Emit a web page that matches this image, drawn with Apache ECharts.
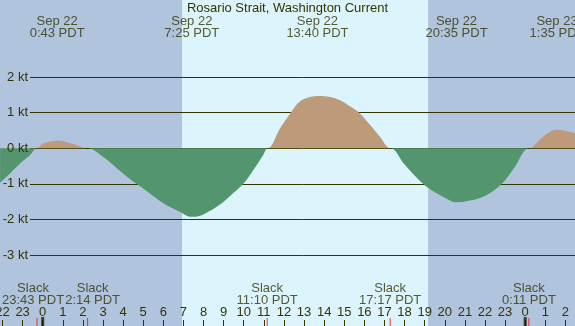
<!DOCTYPE html>
<html>
<head>
<meta charset="utf-8">
<script src="https://cdn.jsdelivr.net/npm/echarts@6/dist/echarts.min.js"></script>
<style>
  html, body { margin: 0; padding: 0; }
  #chart { width: 575px; height: 326px; }
</style>
</head>
<body>
<div id="chart"></div>
<script>
// hours from Sep 22 00:00 PDT, current in knots (flood +, ebb -)
const hours = [-2.12, -1.63, -1.13, -0.63, -0.28, 0.03, 0.75, 1.5, 2.23, 3.0, 4.0, 4.65, 5.0, 6.0, 6.83, 7.41, 7.83, 8.32, 8.82, 9.32, 9.98, 10.48, 10.97, 11.2, 11.81, 12.34, 12.8, 13.3, 13.75, 14.29, 14.79, 15.28, 15.78, 16.28, 16.77, 17.3, 18.0, 19.0, 20.0, 20.58, 21.0, 22.0, 22.84, 23.5, 24.18, 24.8, 25.2, 25.58, 26.48];
const speed = [-0.97, -0.71, -0.43, -0.19, 0, 0.13, 0.21, 0.12, 0, -0.24, -0.71, -1.0, -1.13, -1.55, -1.79, -1.93, -1.9, -1.76, -1.58, -1.34, -1.0, -0.61, -0.19, 0, 0.56, 1.0, 1.32, 1.44, 1.47, 1.44, 1.35, 1.18, 0.98, 0.66, 0.33, 0, -0.46, -1.04, -1.39, -1.52, -1.5, -1.34, -1.0, -0.51, 0, 0.28, 0.45, 0.52, 0.42];

const slackDay = [-1, 0, 0, 0, 1];
const slackTime = ['23:43', '2:14', '11:10', '17:17', '0:11'];
const maxDay = [0, 0, 0, 0, 1];
const maxTime = ['0:43', '7:25', '13:40', '20:35', '1:35'];
const maxDate = ['Sep 22', 'Sep 22', 'Sep 22', 'Sep 22', 'Sep 23'];
const midnights = [0, 24];
const daylight = [6.93, 19.17];
const ktTicks = [-3, -2, -1, 0, 1, 2];

const ink = '#333300';
const font = 'Liberation Sans';

function toHour(day, t) {
  const p = t.split(':');
  return day * 24 + Number(p[0]) + Number(p[1]) / 60;
}

const yMin = -5, yMax = 4.17;

// flood and ebb parts drawn as separate fills
const flood = hours.map((h, i) => [h, Math.max(speed[i], 0)]);
const ebb = hours.map((h, i) => [h, Math.min(speed[i], 0)]);

function fill(data, color, z) {
  return {
    type: 'line', xAxisIndex: 0, yAxisIndex: 0, z: z,
    data: data, smooth: 0.35, symbol: 'none',
    lineStyle: { width: 0, color: color },
    itemStyle: { color: color },
    areaStyle: { opacity: 1, color: color, origin: 0 }
  };
}

// the two early slack labels are nudged apart so they don't overlap
const slackNudge = [-4, 5, 0, 0, 0];

const chart = echarts.init(document.getElementById('chart'));
chart.setOption({
  backgroundColor: '#b0c4de',
  animation: false,
  title: {
    text: 'Rosario Strait, Washington Current',
    left: 'center', top: 2, padding: 0,
    textStyle: { fontFamily: font, fontSize: 13, fontWeight: 'normal', color: ink }
  },
  grid: [
    { left: -17.6, right: -10.5, top: 0, bottom: 0, containLabel: false, outerBoundsMode: 'none' },
    { left: 30, right: 0, top: 77, bottom: 71, containLabel: false, outerBoundsMode: 'none' }
  ],
  xAxis: [
    {
      type: 'value', gridIndex: 0, min: -3, max: 27, interval: 1, z: 4,
      axisLine: { show: false, onZero: false },
      axisTick: { show: true, inside: true, length: 6, lineStyle: { color: ink } },
      axisLabel: {
        inside: true, margin: 7, color: ink, fontFamily: font, fontSize: 13,
        hideOverlap: false,
        formatter: v => String(((v % 24) + 24) % 24)
      },
      splitLine: { show: false }
    },
    { type: 'value', gridIndex: 1, min: 0, max: 1, show: false }
  ],
  yAxis: [
    { type: 'value', gridIndex: 0, min: yMin, max: yMax, show: false },
    {
      type: 'value', gridIndex: 1, min: ktTicks[0], max: ktTicks[ktTicks.length - 1], interval: 1,
      z: 2,
      axisLine: { show: false }, axisTick: { show: false }, axisLabel: { show: false },
      splitLine: { show: true, lineStyle: { color: ink, width: 1 } }
    },
    {
      type: 'value', gridIndex: 1, position: 'left', min: ktTicks[0], max: ktTicks[ktTicks.length - 1], interval: 1,
      z: 5,
      axisLine: { show: false }, axisTick: { show: false },
      axisLabel: { margin: 2, color: ink, fontFamily: font, fontSize: 13, formatter: '{value} kt' },
      splitLine: { show: false }
    }
  ],
  series: [
    fill(ebb, '#52956f', 3),
    fill(flood, '#bc9a7a', 3),
    {
      // slack markers at the bottom, also carries the daylight band
      type: 'scatter', xAxisIndex: 0, yAxisIndex: 0, z: 5,
      data: slackTime.map((t, i) => ({
        value: [toHour(slackDay[i], t), yMin],
        label: { offset: [slackNudge[i], 0] }
      })),
      symbol: 'rect', symbolSize: [1, 8], symbolOffset: [0, '-50%'],
      itemStyle: { color: '#ff0000' },
      label: {
        show: true, position: 'top', distance: 12,
        color: ink, fontFamily: font, fontSize: 13, lineHeight: 12, align: 'center',
        formatter: p => 'Slack\n' + slackTime[p.dataIndex] + ' PDT'
      },
      markArea: {
        silent: true,
        itemStyle: { color: '#dcf5fc' },
        data: [[{ coord: [daylight[0], yMin] }, { coord: [daylight[1], yMax] }]]
      }
    },
    {
      type: 'scatter', xAxisIndex: 0, yAxisIndex: 0, z: 5,
      data: midnights.map(h => [h, yMin]),
      symbol: 'rect', symbolSize: [3, 9], symbolOffset: [0, '-50%'],
      itemStyle: { color: '#1a1a00' }
    },
    {
      type: 'scatter', xAxisIndex: 0, yAxisIndex: 0, z: 5,
      data: maxTime.map((t, i) => [toHour(maxDay[i], t), yMax]),
      symbolSize: 0,
      label: {
        show: true, position: 'bottom', distance: 15,
        color: ink, fontFamily: font, fontSize: 13, lineHeight: 12, align: 'center',
        formatter: p => maxDate[p.dataIndex] + '\n' + maxTime[p.dataIndex] + ' PDT'
      }
    }
  ]
});
</script>
</body>
</html>
